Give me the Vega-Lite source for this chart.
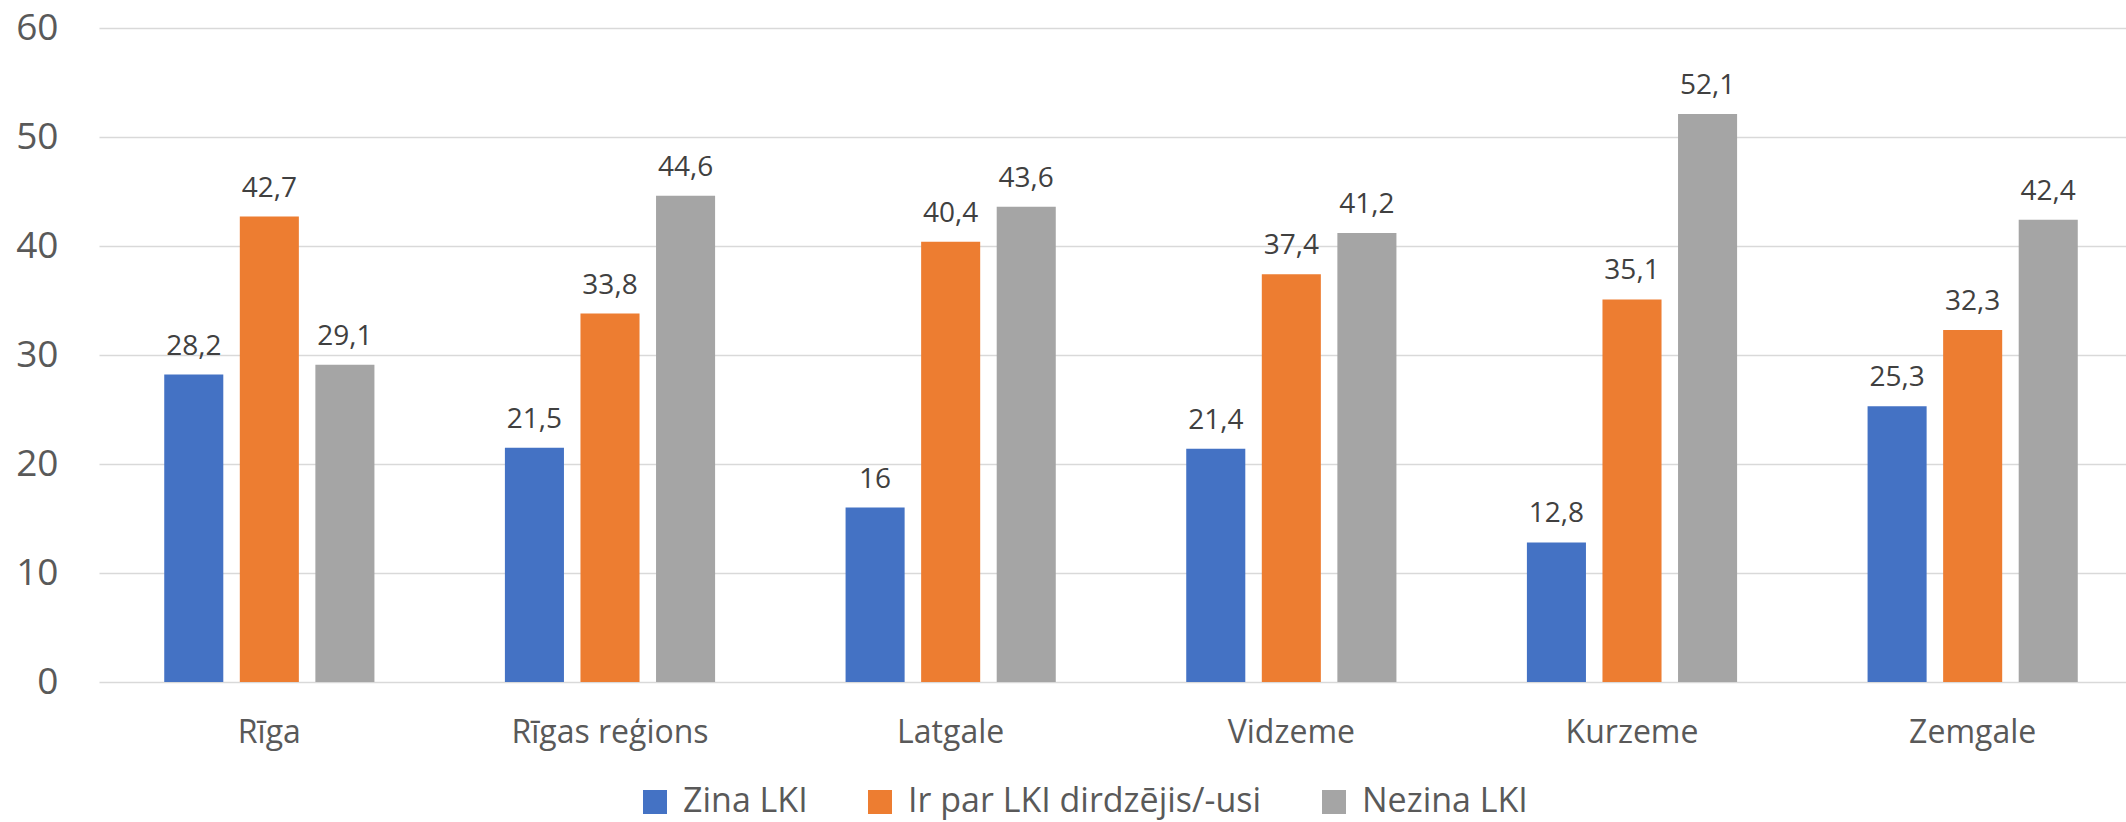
{
  "$schema": "https://vega.github.io/schema/vega-lite/v6.json",
  "autosize": {"type": "none"},
  "padding": {"left": 99, "top": 28, "right": 0, "bottom": 140},
  "width": 2027,
  "height": 654,
  "background": "white",
  "config": {
    "view": {"stroke": null},
    "font": "Open Sans",
    "locale": {"number": {"decimal": ",", "thousands": " ", "grouping": [3], "currency": ["", " €"]}}
  },
  "data": {
    "values": [
      {"region": "Rīga", "group": "Zina LKI", "value": 28.2},
      {"region": "Rīga", "group": "Ir par LKI dirdzējis/-usi", "value": 42.7},
      {"region": "Rīga", "group": "Nezina LKI", "value": 29.1},
      {"region": "Rīgas reģions", "group": "Zina LKI", "value": 21.5},
      {"region": "Rīgas reģions", "group": "Ir par LKI dirdzējis/-usi", "value": 33.8},
      {"region": "Rīgas reģions", "group": "Nezina LKI", "value": 44.6},
      {"region": "Latgale", "group": "Zina LKI", "value": 16},
      {"region": "Latgale", "group": "Ir par LKI dirdzējis/-usi", "value": 40.4},
      {"region": "Latgale", "group": "Nezina LKI", "value": 43.6},
      {"region": "Vidzeme", "group": "Zina LKI", "value": 21.4},
      {"region": "Vidzeme", "group": "Ir par LKI dirdzējis/-usi", "value": 37.4},
      {"region": "Vidzeme", "group": "Nezina LKI", "value": 41.2},
      {"region": "Kurzeme", "group": "Zina LKI", "value": 12.8},
      {"region": "Kurzeme", "group": "Ir par LKI dirdzējis/-usi", "value": 35.1},
      {"region": "Kurzeme", "group": "Nezina LKI", "value": 52.1},
      {"region": "Zemgale", "group": "Zina LKI", "value": 25.3},
      {"region": "Zemgale", "group": "Ir par LKI dirdzējis/-usi", "value": 32.3},
      {"region": "Zemgale", "group": "Nezina LKI", "value": 42.4}
    ]
  },
  "encoding": {
    "x": {
      "field": "region",
      "type": "nominal",
      "sort": ["Rīga", "Rīgas reģions", "Latgale", "Vidzeme", "Kurzeme", "Zemgale"],
      "scale": {"range": [0, 2044], "paddingInner": 0.383, "paddingOuter": 0.1915},
      "axis": {
        "title": null,
        "labelAngle": 0,
        "domain": false,
        "ticks": false,
        "grid": false,
        "labelFontSize": 32,
        "labelColor": "#595959",
        "labelBaseline": "alphabetic",
        "labelPadding": 60,
        "labelLimit": 400
      }
    },
    "xOffset": {
      "field": "group",
      "type": "nominal",
      "sort": ["Zina LKI", "Ir par LKI dirdzējis/-usi", "Nezina LKI"],
      "scale": {"paddingInner": 0.2185, "paddingOuter": 0}
    },
    "y": {
      "field": "value",
      "type": "quantitative",
      "scale": {"domain": [0, 60], "nice": false},
      "axis": {
        "title": null,
        "values": [0, 10, 20, 30, 40, 50, 60],
        "domain": false,
        "ticks": false,
        "labelFontSize": 37,
        "labelColor": "#595959",
        "labelPadding": 41,
        "gridColor": "#D9D9D9",
        "gridWidth": 1.5
      }
    }
  },
  "layer": [
    {
      "mark": {"type": "bar"},
      "encoding": {
        "color": {
          "field": "group",
          "type": "nominal",
          "sort": ["Zina LKI", "Ir par LKI dirdzējis/-usi", "Nezina LKI"],
          "scale": {
            "domain": ["Zina LKI", "Ir par LKI dirdzējis/-usi", "Nezina LKI"],
            "range": ["#4472C4", "#ED7D31", "#A5A5A5"]
          },
          "legend": {
            "title": null,
            "orient": "none",
            "direction": "horizontal",
            "legendX": 539,
            "legendY": 757,
            "padding": 0,
            "symbolType": "square",
            "symbolSize": 576,
            "symbolStrokeWidth": 0,
            "symbolOpacity": 1,
            "labelFontSize": 34,
            "labelColor": "#595959",
            "labelOffset": 11,
            "columnPadding": 55,
            "labelLimit": 600
          }
        }
      }
    },
    {
      "mark": {"type": "text", "baseline": "alphabetic", "dy": -20, "fontSize": 28, "color": "#404040"},
      "encoding": {
        "text": {"field": "value", "type": "quantitative", "format": ".1~f"}
      }
    }
  ]
}
